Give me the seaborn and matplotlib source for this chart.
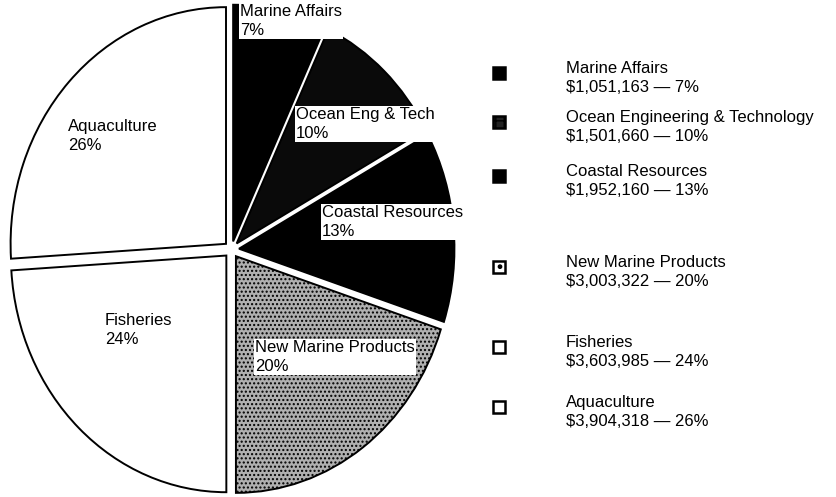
import matplotlib
matplotlib.use("Agg")
import matplotlib.pyplot as plt
from matplotlib.patches import Rectangle
import seaborn as sns

# ---- data ----
categories = ["Marine Affairs", "Ocean Engineering & Technology", "Coastal Resources",
              "New Marine Products", "Fisheries", "Aquaculture"]
short_labels = ["Marine Affairs", "Ocean Eng & Tech", "Coastal Resources",
                "New Marine Products", "Fisheries", "Aquaculture"]
amounts = [1051163, 1501660, 1952160, 3003322, 3603985, 3904318]
percents = [7, 10, 13, 20, 24, 26]

# ---- styles / layout ----
face_colors = ["black", "#0a0a0a", "black", "#b0b0b0", "white", "white"]
hatches = [None, None, None, "....", None, None]
label_boxed = [True, True, True, True, False, False]
# pie label top-left positions in pixels
label_px = [(240, 4), (296, 107), (322, 205), (255, 340), (105, 313), (68, 119)]
# legend row centers (pixels)
legend_y = [73, 122, 176, 267, 347, 407]
legend_face = ["black", "#222222", "black", "white", "white", "white"]
legend_hatch = [None, "++", None, ".", None, None]

W, H = 836, 497
sns.set_style("white")
plt.rcParams["font.family"] = ["Liberation Sans", "DejaVu Sans"]
plt.rcParams["hatch.color"] = "black"
plt.rcParams["hatch.linewidth"] = 1.0

fig = plt.figure(figsize=(W / 100, H / 100), dpi=100)
ax = fig.add_axes([1 / W, -1 / H, 461 / W, 497 / H])

wedges, _ = ax.pie(amounts, startangle=90, counterclock=False,
                   explode=[0.035] * len(amounts),
                   colors=face_colors,
                   wedgeprops=dict(edgecolor="black", linewidth=1.4))
for w, h in zip(wedges, hatches):
    if h:
        w.set_hatch(h)
ax.set_xlim(-1.07, 1.07)
ax.set_ylim(-1.05, 1.05)
ax.set_aspect("auto")
ax.axis("off")

# pie labels
for lab, p, (px, py), boxed in zip(short_labels, percents, label_px, label_boxed):
    kw = {}
    if boxed:
        kw["bbox"] = dict(facecolor="white", edgecolor="none", pad=1.0)
    fig.text(px / W, 1 - py / H, f"{lab}\n{p}%", ha="left", va="top",
             fontsize=12, color="black", linespacing=1.3, **kw)

# legend
sq = 12
for cat, amt, p, y, fc, hh in zip(categories, amounts, percents, legend_y,
                                  legend_face, legend_hatch):
    r = Rectangle(((499 - sq / 2) / W, 1 - (y + sq / 2) / H), sq / W, sq / H,
                  transform=fig.transFigure, facecolor=fc, edgecolor="black",
                  linewidth=1.8, hatch=hh)
    fig.patches.append(r)
    fig.text(566 / W, 1 - (y - 12) / H, f"{cat}\n${amt:,} \u2014 {p}%",
             ha="left", va="top", fontsize=12, color="black", linespacing=1.3)

fig.savefig("out.png", dpi=100, facecolor="white")
